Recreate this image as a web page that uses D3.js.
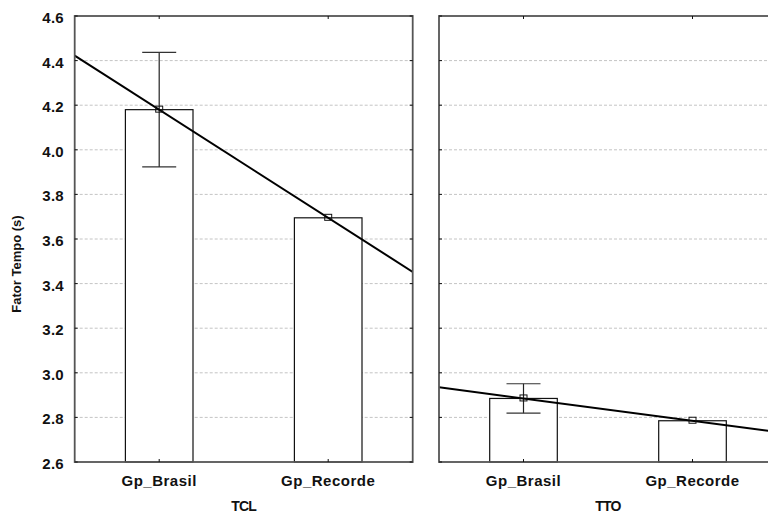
<!DOCTYPE html>
<html>
<head>
<meta charset="utf-8">
<script src="https://cdn.jsdelivr.net/npm/d3@7"></script>
<style>
  body { margin: 0; background: #fff; }
  svg text { font-family: "Liberation Sans", Arial, sans-serif; font-weight: bold; fill: #111; }
</style>
</head>
<body>
<div id="container"></div>
<script>
// data
const groups = ["Gp_Brasil", "Gp_Recorde"];
const panelNames = ["TCL", "TTO"];
const meanTCL = [4.18, 3.695];
const errTCL = [0.257, 0];
const meanTTO = [2.885, 2.785];
const errTTO = [0.066, 0];
const yTicks = [2.6, 2.8, 3.0, 3.2, 3.4, 3.6, 3.8, 4.0, 4.2, 4.4, 4.6];

const panels = [
  { name: panelNames[0], mean: meanTCL, err: errTCL },
  { name: panelNames[1], mean: meanTTO, err: errTTO }
];

const width = 768, height = 515;
const plotTop = 16, plotBottom = 462;
const panelW = 338;
const panelX = [74.7, 439];

const svg = d3.select("#container")
  .append("svg")
  .attr("width", width)
  .attr("height", height);

const y = d3.scaleLinear()
  .domain([2.6, 4.6])
  .range([plotBottom, plotTop]);

// y labels only on the first panel
svg.append("g")
  .selectAll("text")
  .data(yTicks)
  .enter()
  .append("text")
  .attr("x", 64)
  .attr("y", d => y(d) + 7)
  .attr("text-anchor", "end")
  .style("font-size", "15px")
  .style("letter-spacing", "0.3px")
  .text(d => d3.format(".1f")(d));

svg.append("text")
  .attr("transform", "translate(21,264) rotate(-90)")
  .attr("text-anchor", "middle")
  .style("font-size", "13px")
  .text("Fator Tempo (s)");

panels.forEach((p, pi) => {
  const g = svg.append("g")
    .attr("transform", `translate(${panelX[pi]},0)`);

  const x = d3.scalePoint()
    .domain(groups)
    .range([0, panelW])
    .padding(0.5);
  const barW = x.step() * 0.4;

  g.append("clipPath")
    .attr("id", "clip" + pi)
    .append("rect")
    .attr("x", 0).attr("y", plotTop)
    .attr("width", panelW).attr("height", plotBottom - plotTop);

  // grid
  g.selectAll(".grid")
    .data(yTicks.slice(1, -1))
    .enter()
    .append("line")
    .attr("x1", 0).attr("x2", panelW)
    .attr("y1", d => y(d)).attr("y2", d => y(d))
    .attr("stroke", "#c4c4c4")
    .attr("stroke-dasharray", "3,2");

  // bars
  g.selectAll(".bar")
    .data(groups)
    .enter()
    .append("rect")
    .attr("x", d => x(d) - barW / 2)
    .attr("y", (d, i) => y(p.mean[i]))
    .attr("width", barW)
    .attr("height", (d, i) => plotBottom - y(p.mean[i]))
    .attr("fill", "#fff")
    .attr("stroke", "#111")
    .attr("stroke-width", 1.2);

  // error bars
  groups.forEach((gr, i) => {
    if (!p.err[i]) return;
    const cx = x(gr);
    const hi = y(p.mean[i] + p.err[i]), lo = y(p.mean[i] - p.err[i]);
    g.append("line").attr("x1", cx).attr("x2", cx).attr("y1", hi).attr("y2", lo)
      .attr("stroke", "#222").attr("stroke-width", 1.2);
    [hi, lo].forEach(v => {
      g.append("line").attr("x1", cx - 17).attr("x2", cx + 17).attr("y1", v).attr("y2", v)
        .attr("stroke", "#333").attr("stroke-width", 1.2);
    });
  });

  // line through the two means, extended to the panel edges
  const fit = d3.scaleLinear()
    .domain([x(groups[0]), x(groups[1])])
    .range([p.mean[0], p.mean[1]]);
  g.append("line")
    .attr("clip-path", `url(#clip${pi})`)
    .attr("x1", 0).attr("y1", y(fit(0)))
    .attr("x2", panelW).attr("y2", y(fit(panelW)))
    .attr("stroke", "#000")
    .attr("stroke-width", 2);

  // mean markers
  g.selectAll(".mk")
    .data(groups)
    .enter()
    .append("rect")
    .attr("x", d => x(d) - 3.5)
    .attr("y", (d, i) => y(p.mean[i]) - 3.5)
    .attr("width", 7).attr("height", 6)
    .attr("fill", "none")
    .attr("stroke", "#111")
    .attr("stroke-width", 1);

  // frame
  g.append("rect")
    .attr("x", 0).attr("y", plotTop)
    .attr("width", panelW).attr("height", plotBottom - plotTop)
    .attr("fill", "none")
    .attr("stroke", "#555")
    .attr("stroke-width", 1.8);

  // ticks
  groups.forEach(gr => {
    g.append("line").attr("x1", x(gr)).attr("x2", x(gr)).attr("y1", plotTop).attr("y2", plotTop + 3)
      .attr("stroke", "#111");
    g.append("line").attr("x1", x(gr)).attr("x2", x(gr)).attr("y1", plotBottom).attr("y2", plotBottom - 3)
      .attr("stroke", "#111");
  });
  yTicks.forEach(t => {
    g.append("line").attr("x1", 0).attr("x2", 3).attr("y1", y(t)).attr("y2", y(t)).attr("stroke", "#111");
    g.append("line").attr("x1", panelW).attr("x2", panelW - 3).attr("y1", y(t)).attr("y2", y(t)).attr("stroke", "#111");
  });

  // category labels
  g.selectAll(".cat")
    .data(groups)
    .enter()
    .append("text")
    .attr("x", d => x(d))
    .attr("y", 486)
    .attr("text-anchor", "middle")
    .style("font-size", "15px")
    .style("letter-spacing", "0.5px")
    .text(d => d);

  g.append("text")
    .attr("x", panelW / 2)
    .attr("y", 511)
    .attr("text-anchor", "middle")
    .style("font-size", "14px")
    .style("letter-spacing", "-0.8px")
    .text(p.name);
});
</script>
</body>
</html>
